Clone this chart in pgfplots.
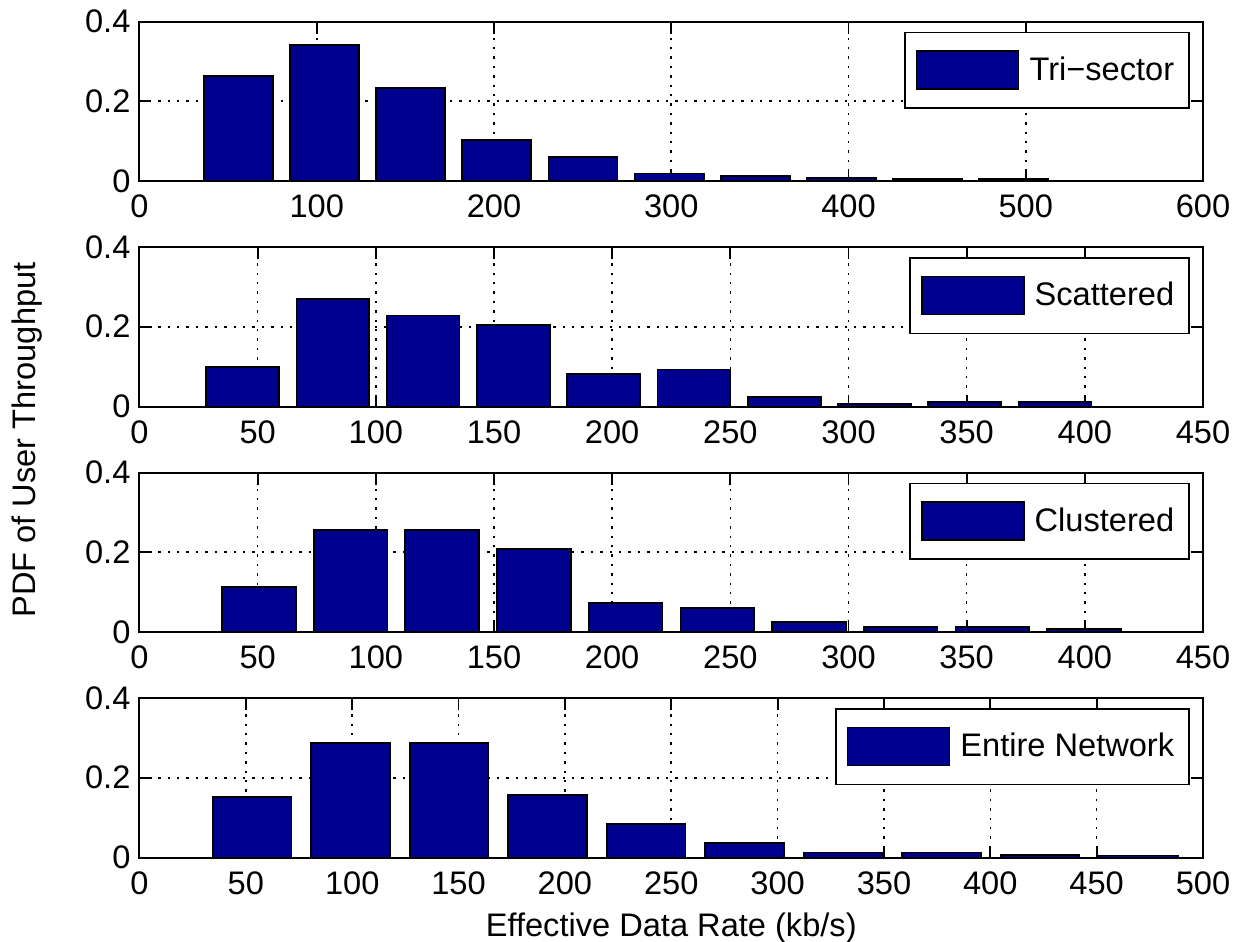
\documentclass[border=0pt]{standalone}
\usepackage{pgfplots}
\pgfplotsset{compat=1.18}
\usepackage{pgfplotstable}
\usepackage{fontspec}
\setmainfont{Liberation Sans}
\definecolor{barblue}{RGB}{0,0,143}
\newcommand{\chartfont}{\fontsize{16.3}{19}\selectfont}

\pgfplotstableread{
x y
55.8 0.263
104.4 0.341
153.0 0.233
201.6 0.102
250.2 0.060
298.8 0.019
347.4 0.013
396.0 0.007
444.6 0.006
493.2 0.005
}\trisector
\pgfplotstableread{
x y
43.6 0.100
81.8 0.269
120.0 0.228
158.2 0.204
196.4 0.081
234.6 0.093
272.8 0.024
311.0 0.006
349.2 0.012
387.4 0.012
}\scattered
\pgfplotstableread{
x y
50.5 0.112
89.3 0.256
128.1 0.256
166.9 0.208
205.7 0.072
244.5 0.060
283.3 0.025
322.1 0.012
360.9 0.012
399.7 0.007
}\clustered
\pgfplotstableread{
x y
53.0 0.151
99.3 0.288
145.6 0.288
191.9 0.156
238.2 0.084
284.5 0.036
330.8 0.0125
377.1 0.0125
423.4 0.006
469.7 0.005
}\entire

\pgfplotsset{
  panel/.style={
    scale only axis,
    width=531.75pt, height=79.75pt,
    ymin=0, ymax=0.4,
    ytick={0,0.2,0.4}, yticklabels={0,0.2,0.4},
    xmin=0,
    axis line style={line width=1pt},
    every tick/.style={black, line width=0.9pt},
    major tick length=6pt,
    tick align=inside,
    tick pos=both,
    grid=major,
    major grid style={black, line width=0.8pt, dash pattern=on 1.2pt off 3.5pt},
    /pgf/number format/assume math mode=true,
    tick label style={font=\chartfont},
    xticklabel style={yshift=-3.5pt},
    yticklabel style={xshift=-1pt},
    legend style={at={(1,1)}, anchor=north east, xshift=-6.5pt, yshift=-5pt,
      draw=black, line width=0.8pt, fill=white,
      font=\chartfont,
      inner xsep=5.5pt, inner ysep=9pt},
    legend image code/.code={\draw[#1, line width=0.8pt] (2pt,-9.5pt) rectangle (53pt,9.5pt); \path (56pt,0pt);},
    legend cell align=left,
  },
  barstyle/.style={ybar, fill=barblue, draw=black, line width=0.9pt},
}

\begin{document}
\begin{tikzpicture}
\useasboundingbox (-69.75pt,-380.5pt) rectangle (548.75pt,90.5pt);
\begin{axis}[panel, at={(0pt,0pt)}, xmax=600, xtick={0,100,...,600}]
\addplot[barstyle, bar width=38.9] table[x=x,y=y] {\trisector};
\addlegendentry{Tri−sector}
\end{axis}
\begin{axis}[panel, at={(0pt,-112.75pt)}, xmax=450, xtick={0,50,...,450}]
\addplot[barstyle, bar width=30.8] table[x=x,y=y] {\scattered};
\addlegendentry{Scattered}
\end{axis}
\begin{axis}[panel, at={(0pt,-225.5pt)}, xmax=450, xtick={0,50,...,450}]
\addplot[barstyle, bar width=31.2] table[x=x,y=y] {\clustered};
\addlegendentry{Clustered}
\end{axis}
\begin{axis}[panel, at={(0pt,-338.25pt)}, xmax=500, xtick={0,50,...,500},
  xlabel={Effective Data Rate (kb/s)},
  xlabel style={font=\chartfont, yshift=-2pt}]
\addplot[barstyle, bar width=37] table[x=x,y=y] {\entire};
\addlegendentry{Entire Network}
\end{axis}
\node[rotate=90, font=\chartfont] at (-56.25pt,-129.5pt) {PDF of User Throughput};
\end{tikzpicture}
\end{document}
